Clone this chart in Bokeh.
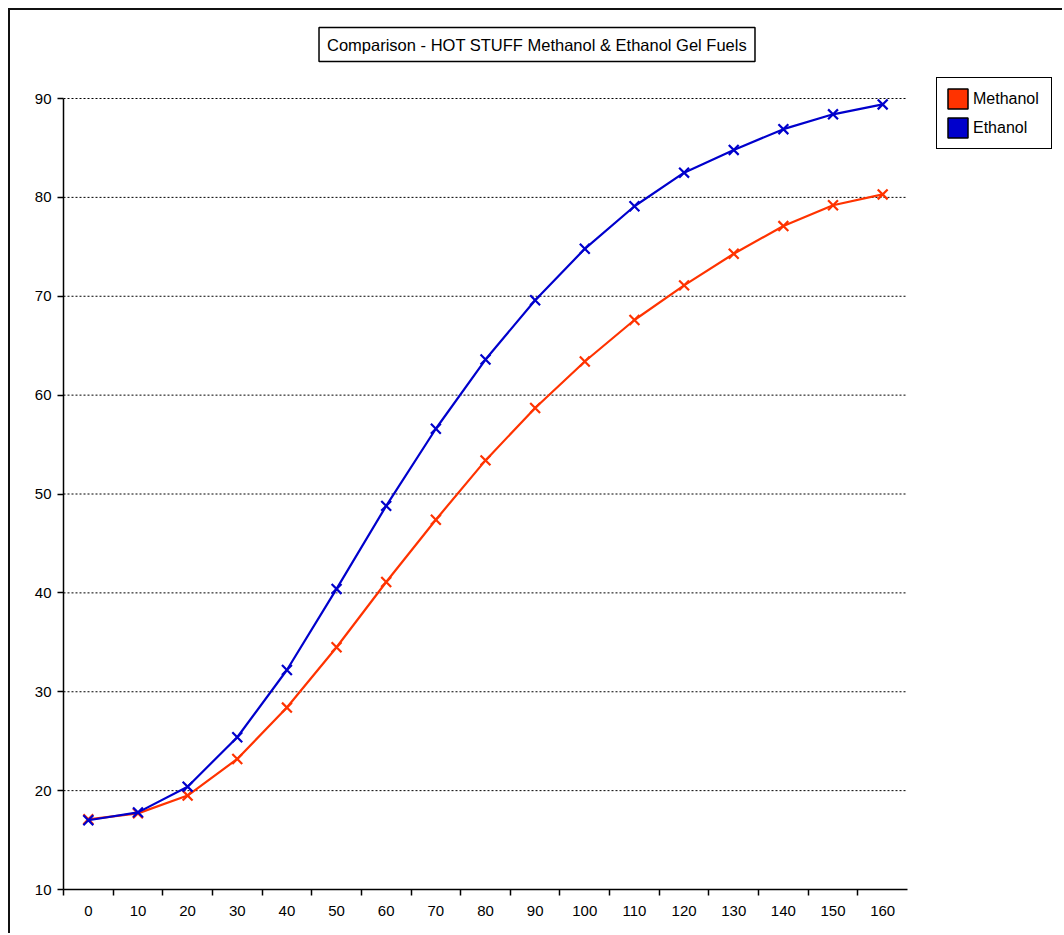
from bokeh.plotting import figure
from bokeh.models import Range1d, FixedTicker, Legend, LegendItem, Label
from bokeh.embed import file_html
from bokeh.resources import INLINE

# data
times = [0, 10, 20, 30, 40, 50, 60, 70, 80, 90, 100, 110, 120, 130, 140, 150, 160]
methanol = [17.1, 17.7, 19.5, 23.2, 28.4, 34.5, 41.1, 47.4, 53.4, 58.7, 63.4, 67.6, 71.1, 74.3, 77.1, 79.2, 80.3]
ethanol = [17.0, 17.8, 20.4, 25.4, 32.2, 40.4, 48.8, 56.6, 63.6, 69.6, 74.8, 79.1, 82.5, 84.8, 86.9, 88.4, 89.4]
y_ticks = [10, 20, 30, 40, 50, 60, 70, 80, 90]
title_text = "Comparison - HOT STUFF Methanol & Ethanol Gel Fuels"
series_names = ["Methanol", "Ethanol"]
red = "#FF3300"
blue = "#0000CC"
FONT = "Liberation Sans"

# layout (pixels)
W, H = 1054, 925
LEFT, BOTTOM = 53, 46
PLOT_W, PLOT_H = 844, 791          # drawn axes area
FRAME_W, FRAME_H = W - LEFT, H - BOTTOM

step = times[1] - times[0]
x0, x1 = times[0] - step / 2, times[-1] + step / 2
y0, y1 = y_ticks[0], y_ticks[-1]
x_end = x0 + (x1 - x0) * FRAME_W / PLOT_W
y_end = y0 + (y1 - y0) * FRAME_H / PLOT_H

p = figure(width=W, height=H, output_backend="svg", toolbar_location=None,
           x_range=Range1d(x0, x_end), y_range=Range1d(y0, y_end),
           min_border_left=LEFT, min_border_top=0, min_border_right=0, min_border_bottom=BOTTOM)
p.styles = {"margin-left": "8px", "margin-top": "8px",
            "border-left": "2px solid #111", "border-top": "2px solid #111"}
p.outline_line_color = None
p.background_fill_color = "white"
p.border_fill_color = "white"

# axes
p.xaxis.ticker = FixedTicker(ticks=times, minor_ticks=[t - step / 2 for t in times])
p.xaxis.bounds = (x0, x1)
p.xaxis.major_tick_out = 0
p.xaxis.major_tick_in = 0
p.xaxis.minor_tick_out = 6
p.xaxis.minor_tick_in = 0
p.xaxis.minor_tick_line_color = "black"
p.xaxis.minor_tick_line_width = 1.5
p.xaxis.major_label_standoff = 10
p.yaxis.ticker = FixedTicker(ticks=y_ticks)
p.yaxis.bounds = (y0, y1)
p.yaxis.major_tick_out = 6
p.yaxis.major_tick_in = 0
p.yaxis.minor_tick_line_color = None
p.yaxis.major_label_standoff = 6
for ax in (p.xaxis, p.yaxis):
    ax.axis_line_color = "black"
    ax.axis_line_width = 1.5
    ax.major_tick_line_color = "black"
    ax.major_tick_line_width = 1.5
    ax.major_label_text_font = FONT
    ax.major_label_text_font_size = "15px"
    ax.major_label_text_color = "black"

# dotted horizontal grid limited to the axes area
p.xgrid.visible = False
p.ygrid.visible = False
grid_y = y_ticks[1:]
p.segment(x0=[x0] * len(grid_y), x1=[x1] * len(grid_y), y0=grid_y, y1=grid_y,
          line_color="black", line_dash="2 2", line_width=1)

# series
p.line(times, methanol, line_color=red, line_width=2.2)
p.scatter(times, methanol, marker="x", size=14, line_color=red, line_width=2.2)
p.line(times, ethanol, line_color=blue, line_width=2.2)
p.scatter(times, ethanol, marker="x", size=14, line_color=blue, line_width=2.2)

# legend swatches
nan = float("nan")
r_m = p.quad(left=[nan], right=[nan], top=[nan], bottom=[nan], fill_color=red, line_color="black", line_width=1.5)
r_e = p.quad(left=[nan], right=[nan], top=[nan], bottom=[nan], fill_color=blue, line_color="black", line_width=1.5)
legend = Legend(items=[LegendItem(label=series_names[0], renderers=[r_m]),
                       LegendItem(label=series_names[1], renderers=[r_e])],
                location=(873, 740), glyph_width=25, glyph_height=25, spacing=4,
                padding=8, label_standoff=3, label_width=70,
                label_text_font=FONT, label_text_font_size="16px", label_text_color="black",
                border_line_color="black", border_line_width=1.5, border_line_alpha=1,
                background_fill_color="white", background_fill_alpha=1)
p.add_layout(legend, "center")

# title box
t = Label(x=473.5, y=845, x_units="screen", y_units="screen", text=title_text,
          text_align="center", text_baseline="middle", text_font=FONT,
          text_font_size="16.5px", text_color="black",
          border_line_color="black", border_line_width=1.5,
          background_fill_color="white", padding=8)
p.add_layout(t)

open("out.html", "w").write(file_html(p, INLINE))
